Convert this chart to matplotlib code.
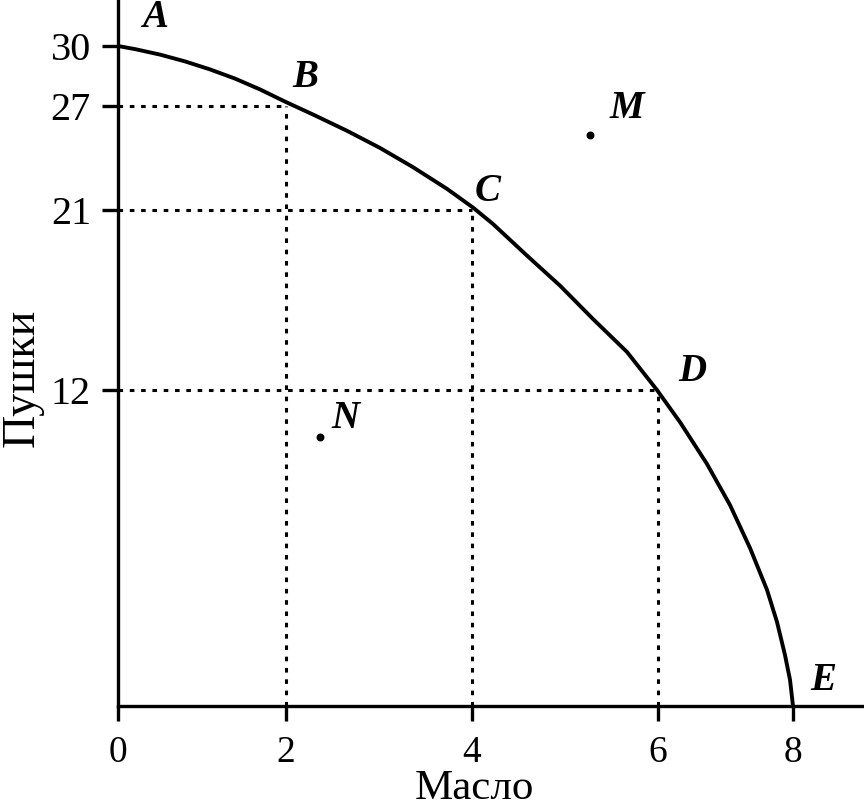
import numpy as np
import matplotlib
matplotlib.use('Agg')
import matplotlib.pyplot as plt

# кривая производственных возможностей
curve_x = [0, 0.202, 0.500, 0.798, 1.095, 1.393, 1.690, 1.988, 2.290, 2.656,
           3.011, 3.366, 3.731, 4.011, 4.226, 4.591, 4.946, 5.301, 5.667,
           5.989, 6.326, 6.726, 7.067, 7.363, 7.615, 7.763, 7.881, 7.956, 8.0]
curve_y = [30, 29.845, 29.57, 29.23, 28.83, 28.37, 27.83, 27.22, 26.51, 25.57,
           24.58, 23.47, 22.22, 21.14, 20.30, 18.72, 17.22, 15.55, 13.9,
           12.0, 10.78, 9.19, 7.63, 6.0, 4.41, 3.19, 1.94, 0.99, 0]

# точки с пунктиром
pt_names = ['B', 'C', 'D']
pt_x = [2, 4, 6]
pt_y = [27, 21, 12]

# отдельные точки
m_x, m_y = 5.27, 25.33
n_x, n_y = 2.37, 10.2

x_ticks = [0, 2, 4, 6, 8]
y_ticks = [12, 21, 27, 30]

# оси на рисунке нарисованы от руки - шкала неравномерная
x_knots = [0, 2, 4, 6, 8, 10]
x_px = [0, 168, 354, 540, 675, 810]
y_knots = [0, 12, 21, 27, 30, 33]
y_px = [0, 316, 496, 600, 660, 720]


def fx(v):
    return np.interp(v, x_knots, x_px)


def fx_inv(v):
    return np.interp(v, x_px, x_knots)


def fy(v):
    return np.interp(v, y_knots, y_px)


def fy_inv(v):
    return np.interp(v, y_px, y_knots)


plt.rcParams['font.family'] = ['Liberation Serif', 'DejaVu Serif']

fig = plt.figure(figsize=(8.64, 8.08), dpi=100)
ax = fig.add_axes([118 / 864, 102 / 808, 744 / 864, 706 / 808])
ax.set_xscale('function', functions=(fx, fx_inv))
ax.set_yscale('function', functions=(fy, fy_inv))
ax.set_xlim(0, fx_inv(744))
ax.set_ylim(0, fy_inv(706))

for s in ['top', 'right']:
    ax.spines[s].set_visible(False)
for s in ['left', 'bottom']:
    ax.spines[s].set_linewidth(2.4)

# кривая
ax.plot(curve_x, curve_y, color='black', lw=2.8, clip_on=False,
        solid_capstyle='butt', solid_joinstyle='round', zorder=3)

# пунктир
dots = (0, (1.5, 2.2))
for x, y in zip(pt_x, pt_y):
    ax.plot([0, x], [y, y], color='black', lw=2.2, linestyle=dots)
    ax.plot([x, x], [0, y], color='black', lw=2.2, linestyle=dots)

ax.scatter([m_x, n_x], [m_y, n_y], s=22, color='black', zorder=4)

# подписи точек
lab = dict(fontsize=28, fontweight='bold', fontstyle='italic',
           ha='center', va='center', textcoords='offset points')
ax.annotate('A', (0, 30), xytext=(26.6, 20.2), **lab)
offs = [(13.7, 20.2), (11.5, 13), (24.5, 13)]
for name, x, y, o in zip(pt_names, pt_x, pt_y, offs):
    ax.annotate(name, (x, y), xytext=o, **lab)
ax.annotate('E', (8, 0), xytext=(21.6, 18.7), **lab)
ax.annotate('M', (m_x, m_y), xytext=(26.6, 19.4), **lab)
ax.annotate('N', (n_x, n_y), xytext=(18, 13.7), **lab)

ax.set_xticks(x_ticks)
ax.set_xticklabels([str(v) for v in x_ticks])
ax.set_yticks(y_ticks)
ax.set_yticklabels([str(v) for v in y_ticks])
ax.minorticks_off()
ax.tick_params(axis='x', direction='out', length=11, width=2.4,
               labelsize=27, pad=10)
ax.tick_params(axis='y', direction='out', length=11.5, width=2.4,
               labelsize=29, pad=8)

fig.text(474 / 864, 1 - 799 / 808, 'Масло', fontsize=31,
         ha='center', va='baseline')
fig.text(22 / 864, 1 - 378 / 808, 'Пушки', fontsize=33, rotation=90,
         ha='center', va='center')

fig.savefig('out.png', dpi=100)
